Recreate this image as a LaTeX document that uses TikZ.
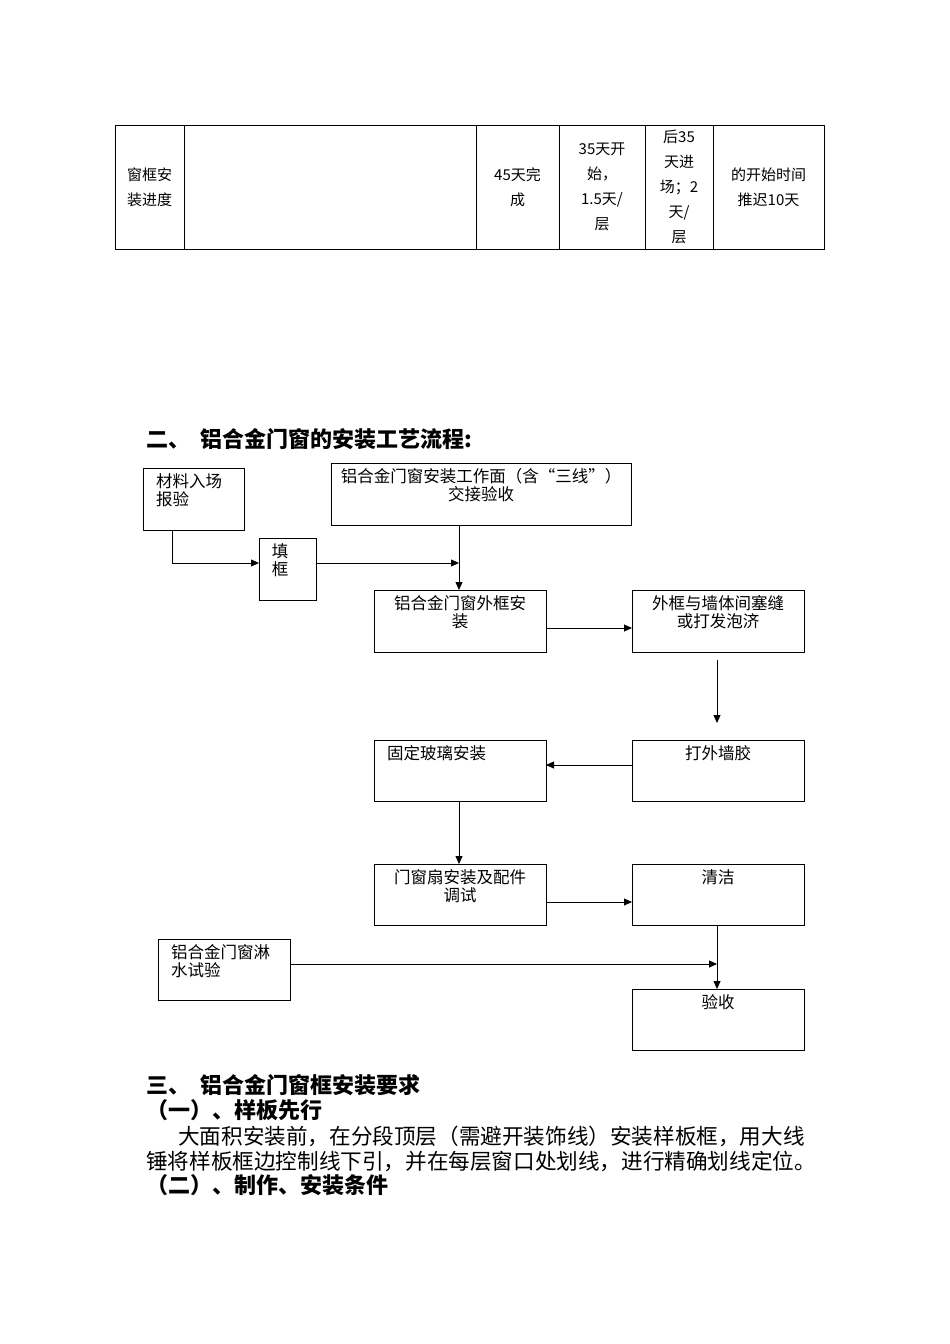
\documentclass[tikz,border=0pt]{standalone}
\usepackage{fontspec}
\setmainfont{Noto Sans CJK SC}
\usetikzlibrary{arrows.meta}
\begin{document}
\begin{tikzpicture}[x=1pt,y=-1pt,
 box/.style={draw,line width=1pt},
 ft/.style={font=\fontsize{16.5}{18}\selectfont,inner sep=0pt,align=center},
 tt/.style={font=\fontsize{15}{25}\selectfont,inner sep=0pt,align=center},
 arr/.style={-{Triangle[length=8pt,width=7pt]},line width=0.8pt},
 hd/.style={font=\fontsize{22}{24}\bfseries\selectfont,anchor=west,inner sep=0pt},
 bd/.style={font=\fontsize{21.6}{24}\selectfont,anchor=west,inner sep=0pt}]
\useasboundingbox (0,0) rectangle (950,1344);
% table
\draw[line width=0.8pt] (115,125) rectangle (824,249);
\foreach \x in {184,476,559,645,713} \draw[line width=0.8pt] (\x,125) -- (\x,249);
\node[tt] (t1) at (149.5,187) {窗框安\\装进度};
\node[tt] (t2) at (517.5,187) {45天完\\成};
\node[tt] (t3) at (602,187) {35天开\\始，\\1.5天/\\层};
\node[tt] (t4) at (679,187) {后35\\天进\\场；2\\天/\\层};
\node[tt] (t5) at (768.5,187) {的开始时间\\推迟10天};
% heading
\node[hd] (h2) at (146,439) {二、\hspace{10pt}铝合金门窗的安装工艺流程:};
% boxes
\draw[box] (143,468) rectangle (244,530); \node[ft,anchor=north west,align=left] (a) at (156,473) {材料入场\\报验};
\coordinate (aB) at (172,530);
\draw[box] (331,463) rectangle (631,525); \node[ft,anchor=north] (b) at (481,468) {铝合金门窗安装工作面（含“三线”）\\交接验收};
\draw[box] (259,538) rectangle (316,600); \node[ft,anchor=north] (c) at (280,543) {填\\框};
\draw[box] (374,590) rectangle (546,652); \node[ft,anchor=north] (d) at (460,595) {铝合金门窗外框安\\装};
\draw[box] (632,590) rectangle (804,652); \node[ft,anchor=north] (e) at (718,595) {外框与墙体间塞缝\\或打发泡济};
\draw[box] (632,740) rectangle (804,801); \node[ft,anchor=north] (f) at (718,745) {打外墙胶};
\draw[box] (374,740) rectangle (546,801); \node[ft,anchor=north west] (g) at (387,745) {固定玻璃安装};
\draw[box] (374,864) rectangle (546,925); \node[ft,anchor=north] (h) at (460,869) {门窗扇安装及配件\\调试};
\draw[box] (632,864) rectangle (804,925); \node[ft,anchor=north] (i) at (718,869) {清洁};
\draw[box] (158,939) rectangle (290,1000); \node[ft,anchor=north west,align=left] (j) at (171,944) {铝合金门窗淋\\水试验};
\draw[box] (632,989) rectangle (804,1050); \node[ft,anchor=north] (k) at (718,994) {验收};
% connectors
\coordinate (p1) at (259,563); \coordinate (p2) at (316,563); \coordinate (p3) at (459,563);
\draw[arr] (aB) |- (p1);
\draw[arr] (p2) -- (p3);
\draw[arr] (459,525) -- (459,590);
\draw[arr] (546,628) -- (632,628);
\draw[arr] (717,660) -- (717,723);
\draw[arr] (632,765) -- (546,765);
\draw[arr] (459,801) -- (459,864);
\draw[arr] (546,902) -- (632,902);
\draw[arr] (717,925) -- (717,989);
\draw[arr] (290,964) -- (717,964);
% text
\node[hd] (s3) at (146,1085) {三、\hspace{10pt}铝合金门窗框安装要求};
\node[hd] (s31) at (146,1110) {（一）、样板先行};
\node[bd] (p) at (178,1136) {大面积安装前，在分段顶层（需避开装饰线）安装样板框，用大线};
\node[bd] (pp) at (146,1161) {锤将样板框边控制线下引，并在每层窗口处划线，进行精确划线定位。};
\node[hd] (s32) at (146,1185) {（二）、制作、安装条件};
\end{tikzpicture}
\end{document}
